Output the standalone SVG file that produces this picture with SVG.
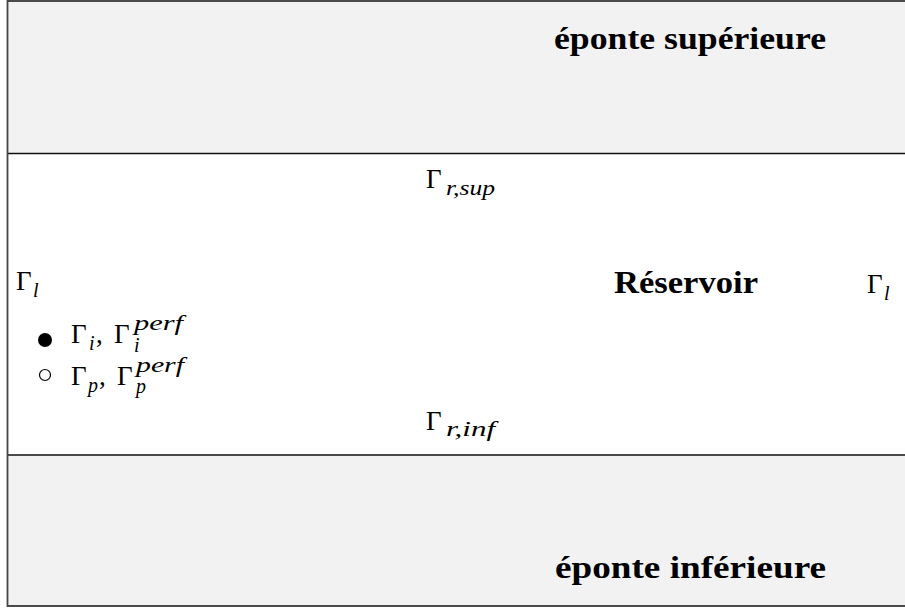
<svg xmlns="http://www.w3.org/2000/svg" width="905" height="608" viewBox="0 0 905 608">
<style>
.band{fill:#f2f2f2;}
.ln{stroke:#111;stroke-width:1.6;fill:none;}
.lbl{font-family:"Liberation Serif","DejaVu Serif",serif;font-weight:bold;fill:#000;}
.g{font-family:"Liberation Serif","DejaVu Serif",serif;font-size:27px;fill:#000;}
.s{font-family:"Liberation Serif","DejaVu Serif",serif;font-style:italic;font-size:20px;fill:#000;}
</style>
<rect x="0" y="0" width="905" height="608" fill="#fff"/>
<g id="eponte-sup">
<rect class="band" x="8" y="1" width="897" height="152.5"/>
<line class="ln" x1="7" y1="1" x2="905" y2="1"/>
<line class="ln" x1="7" y1="153.5" x2="905" y2="153.5"/>
<text class="lbl" x="554" y="49" font-size="32" textLength="272" lengthAdjust="spacingAndGlyphs">éponte supérieure</text>
</g>
<g id="eponte-inf">
<rect class="band" x="8" y="455" width="897" height="151"/>
<line class="ln" x1="7" y1="455" x2="905" y2="455"/>
<line class="ln" x1="7" y1="606" x2="905" y2="606"/>
<text class="lbl" x="555" y="578" font-size="32" textLength="271" lengthAdjust="spacingAndGlyphs">éponte inférieure</text>
</g>
<g id="reservoir">
<text class="lbl" x="614" y="293" font-size="31" textLength="144" lengthAdjust="spacingAndGlyphs">Réservoir</text>
</g>
<g id="bords">
<line x1="7.5" y1="0" x2="7.5" y2="607" stroke="#444" stroke-width="1.8"/>
</g>
<g id="gamma-rsup">
<text class="g" x="426" y="188">Γ</text>
<text class="s" x="446" y="195" textLength="49" lengthAdjust="spacingAndGlyphs">r,sup</text>
</g>
<g id="gamma-rinf">
<text class="g" x="426" y="430">Γ</text>
<text class="s" x="446" y="436" textLength="49" lengthAdjust="spacingAndGlyphs">r,inf</text>
</g>
<g id="gamma-l-left">
<text class="g" x="16" y="290">Γ</text>
<text class="s" x="33" y="297">l</text>
</g>
<g id="gamma-l-right">
<text class="g" x="867" y="293">Γ</text>
<text class="s" x="884" y="300">l</text>
</g>
<g id="legend-inj">
<circle cx="45" cy="340" r="7" fill="#000"/>
<text class="g" x="71" y="343">Γ</text>
<text class="s" x="89" y="350">i</text>
<text class="g" x="96" y="343">,</text>
<text class="g" x="114" y="343">Γ</text>
<text class="s" x="134" y="330" textLength="49" lengthAdjust="spacingAndGlyphs">perf</text>
<text class="s" x="134" y="352">i</text>
</g>
<g id="legend-prod">
<circle cx="45" cy="375" r="5.5" fill="#fff" stroke="#000" stroke-width="1.2"/>
<text class="g" x="71" y="385">Γ</text>
<text class="s" x="88" y="392">p</text>
<text class="g" x="99" y="385">,</text>
<text class="g" x="117" y="385">Γ</text>
<text class="s" x="136" y="372" textLength="48" lengthAdjust="spacingAndGlyphs">perf</text>
<text class="s" x="136" y="393">p</text>
</g>
</svg>
